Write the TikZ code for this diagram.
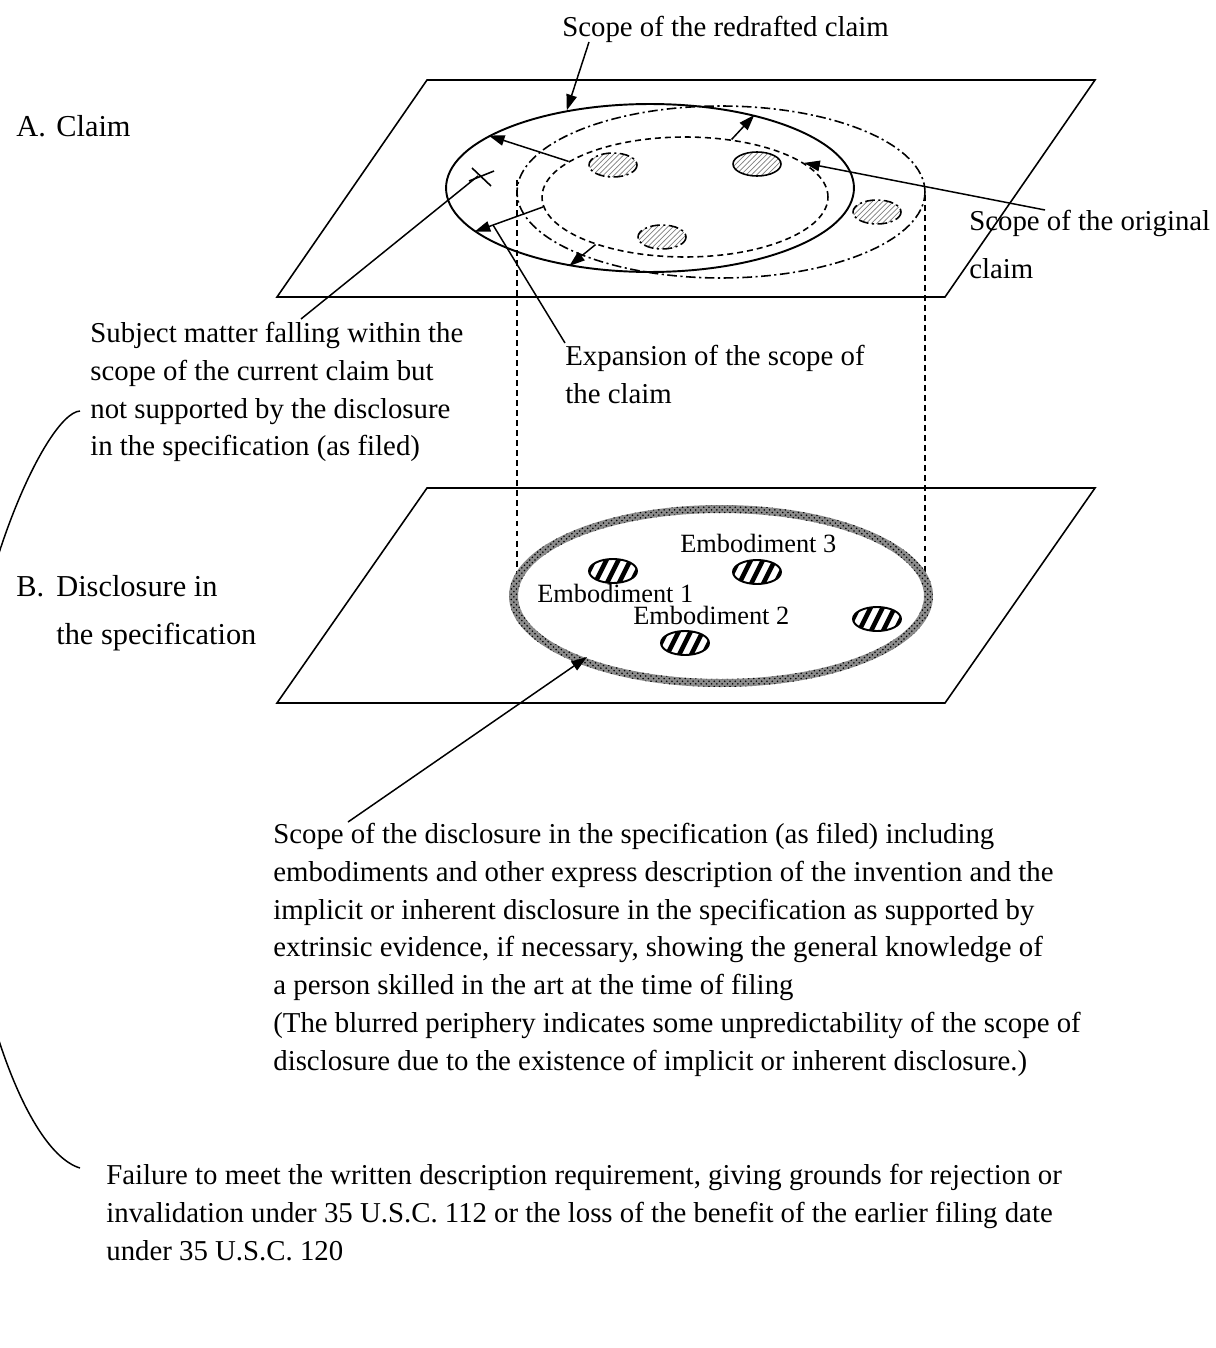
\documentclass[tikz,border=0pt]{standalone}
\usepackage{fontspec}
\setmainfont{Liberation Serif}
\usetikzlibrary{shapes.geometric,patterns,arrows.meta}

\begin{document}
\begin{tikzpicture}[x=0.02cm,y=-0.02cm,
    plane/.style={line width=0.9pt},
    redraftline/.style={draw,ellipse,line width=1.1pt,inner sep=0pt},
    origline/.style={draw,ellipse,line width=0.9pt,inner sep=0pt,dash pattern=on 5.5pt off 2pt on 1.2pt off 2pt},
    currline/.style={draw,ellipse,line width=0.9pt,inner sep=0pt,dash pattern=on 3.4pt off 2.3pt},
    guide/.style={line width=0.8pt,dash pattern=on 3.4pt off 2.3pt},
    pointer/.style={line width=0.85pt,-{Triangle[length=9pt,width=6pt]}},
    leader/.style={line width=0.85pt},
    txt/.style={inner sep=0pt,align=left,font=\fontsize{16.4}{21.5}\selectfont},
    parttxt/.style={inner sep=0pt,align=left,font=\fontsize{17.3}{27.2}\selectfont},
    embtxt/.style={inner sep=0pt,font=\fontsize{15}{18}\selectfont}]
\useasboundingbox (0,0) rectangle (1215,1348);
\fill[white] (0,0) rectangle (1215,1348);

% claim plane
\draw[plane] (427,80) -- (1095,80) -- (945,297) -- (277,297) -- cycle;
% disclosure plane
\draw[plane] (427,488) -- (1095,488) -- (945,703) -- (277,703) -- cycle;

% projection of the original claim
\draw[guide] (517,180) -- (517,578);
\draw[guide] (925,195) -- (925,586);

% scopes of the claim
\node[redraftline,minimum width=8.16cm,minimum height=3.36cm] (redrafted) at (650,188) {};
\node[origline,minimum width=8.16cm,minimum height=3.44cm] (original) at (721,192) {};
\node[currline,minimum width=5.72cm,minimum height=2.4cm] (current) at (685,197) {};

% embodiments seen in the claim plane
\foreach \cx/\cy/\ds in {613/165/origline, 757/164/redraftline, 662/237/origline, 877/212/origline} {
  \fill[pattern=north east lines,pattern color=gray] (\cx,\cy) ellipse (24 and 12);
  \draw[\ds,line width=0.9pt] (\cx,\cy) ellipse (24 and 12);
}

% unsupported subject matter
\draw[line width=0.9pt] (472,168) -- (491,186) (469,181) -- (494,171);
\coordinate (xmark) at (478,176);

% expansion of the scope
\draw[pointer] (current.163) -- (redrafted.162);
\draw[pointer] (current.184) -- (redrafted.194);
\draw[pointer] (current.208) -- (redrafted.224);
\draw[pointer] (current.51) -- (redrafted.35);
\coordinate (expshaft) at (493,225);

% blurred scope of the disclosure
\fill[black!45,even odd rule] (721,596) ellipse (212 and 91) (721,596) ellipse (203 and 83);
\fill[pattern=crosshatch dots,even odd rule] (721,596) ellipse (212 and 91) (721,596) ellipse (203 and 83);
\coordinate (blur) at (587,657);

% embodiments
\foreach \cx/\cy in {613/571, 757/572, 685/643, 877/619} {
  \scope
  \clip (\cx,\cy) ellipse (24 and 12);
  \foreach \k in {-3,...,3}
    \draw[line width=2.6pt] (\cx+\k*12-7,\cy+14) -- ++(14,-28);
  \endscope
  \draw[line width=1.1pt] (\cx,\cy) ellipse (24 and 12);
}
\node[embtxt,anchor=base west] (emb3) at (680,552) {Embodiment 3};
\node[embtxt,anchor=base west] (emb1) at (537,602) {Embodiment 1};
\node[embtxt,anchor=base west] (emb2) at (633,624) {Embodiment 2};

% labels
\node[txt,anchor=base west] (redraftlbl) at (562,37) {Scope of the redrafted claim};
\node[parttxt,anchor=base west] (claimlbl) at (16,137) {\makebox[0.8cm][l]{A.}Claim};
\node[txt,anchor=north west,font=\fontsize{16.4}{27}\selectfont] (origlbl) at (969,210)
  {Scope of the original\\claim};
\node[txt,anchor=north west] (subjlbl) at (90,322)
  {Subject matter falling within the\\scope of the current claim but\\not supported by the disclosure\\in the specification (as filed)};
\node[txt,anchor=north west] (explbl) at (565,345)
  {Expansion of the scope of\\the claim};
\node[parttxt,anchor=north west] (disclbl) at (16,575)
  {\makebox[0.8cm][l]{B.}Disclosure in\\\hspace*{0.8cm}the specification};
\node[txt,anchor=north west] (scopelbl) at (273,823)
  {Scope of the disclosure in the specification (as filed) including\\
   embodiments and other express description of the invention and the\\
   implicit or inherent disclosure in the specification as supported by\\
   extrinsic evidence, if necessary, showing the general knowledge of\\
   a person skilled in the art at the time of filing\\
   (The blurred periphery indicates some unpredictability of the scope of\\
   disclosure due to the existence of implicit or inherent disclosure.)};
\node[txt,anchor=north west] (faillbl) at (106,1164)
  {Failure to meet the written description requirement, giving grounds for rejection or\\
   invalidation under 35 U.S.C. 112 or the loss of the benefit of the earlier filing date\\
   under 35 U.S.C. 120};

% pointers from the labels
\coordinate (r0) at (589,42);
\draw[pointer] (r0) -- (redrafted.137);
\coordinate (o0) at (1045,210);
\draw[pointer] (o0) -- (current.16);
\coordinate (s0) at (301,319);
\draw[leader] (s0) -- (xmark);
\coordinate (e0) at (565,343);
\draw[leader] (e0) -- (expshaft);
\coordinate (d0) at (348,822);
\draw[pointer] (d0) -- (blur);

% bracket from the unsupported matter to the failure
\scope
\clip (0,0) rectangle (1215,1348);
\draw[leader] (80,411) .. controls (45,413) and (-40,600) .. (-40,790)
  .. controls (-40,960) and (20,1150) .. (80,1168);
\endscope
\end{tikzpicture}
\end{document}
